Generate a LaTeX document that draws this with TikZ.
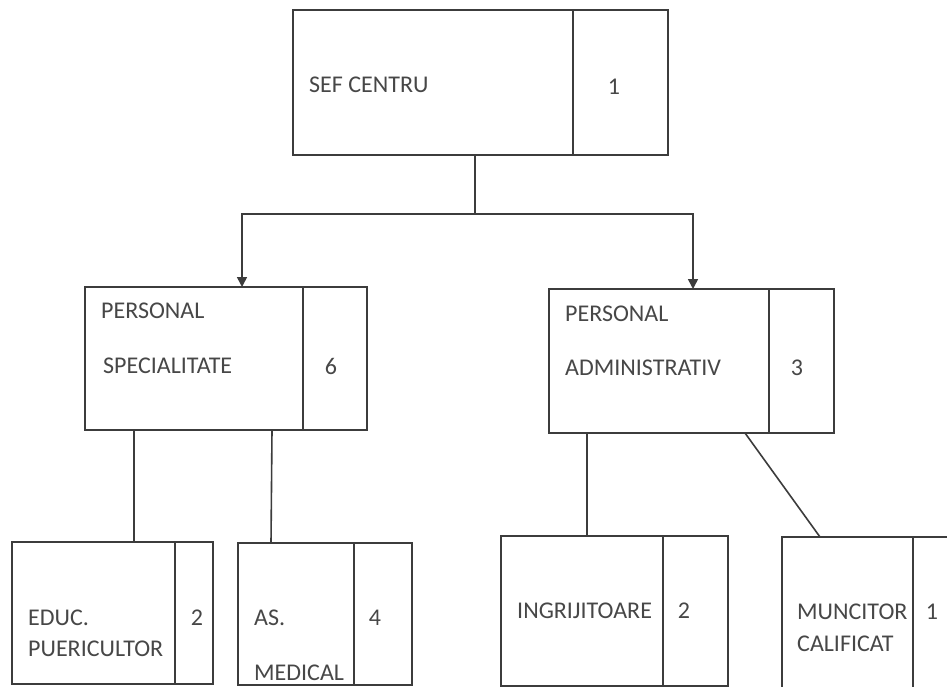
\documentclass[tikz,border=0pt]{standalone}
\usepackage{fontspec}
\setmainfont{Carlito}
\usetikzlibrary{arrows.meta,calc}
\definecolor{ln}{HTML}{3C3C3C}
\definecolor{tx}{HTML}{474747}
\tikzset{
  cell/.style={draw=ln, line width=1.6pt, rectangle, inner sep=0pt, outer sep=0pt, anchor=north west},
  txt/.style={text=tx, inner sep=0pt, anchor=west, font=\fontsize{24}{28}\selectfont},
  num/.style={text=tx, inner sep=0pt, anchor=center, font=\fontsize{24}{28}\selectfont},
  conn/.style={draw=ln, line width=1.6pt},
  arr/.style={conn, -{Triangle[width=10pt,length=10pt]}},
}
\newcommand{\cellbox}[5]{% name, x1, y1, x2, y2
  \node[cell, minimum width=#4pt-#2pt, minimum height=#5pt-#3pt] (#1) at (#2,#3) {};}
\begin{document}
\begin{tikzpicture}[x=1pt,y=-1pt]
\useasboundingbox (0,0) rectangle (947,687);
\clip (0,0) rectangle (947,687);
\fill[white] (0,0) rectangle (947,687);
% boxes
\cellbox{sef}{293}{10}{573}{155}
\cellbox{sefn}{573}{10}{668}{155}
\cellbox{ps}{85}{287}{303}{430}
\cellbox{psn}{303}{287}{367}{430}
\cellbox{pa}{549}{289}{769}{433}
\cellbox{pan}{769}{289}{834}{433}
\cellbox{ed}{12}{542}{175}{684}
\cellbox{edn}{175}{542}{213}{684}
\cellbox{as}{238}{543}{354}{685}
\cellbox{asn}{354}{543}{412}{685}
\cellbox{in}{501}{536}{663}{686}
\cellbox{inn}{663}{536}{728}{686}
\cellbox{mu}{782}{537}{913}{720}
\cellbox{mun}{913}{537}{1000}{720}
% texts
\node[txt] (t1) at (309,85) {SEF CENTRU};
\node[num] (n1) at (614,87) {1};
\node[txt] (t2a) at (101,311) {PERSONAL};
\node[txt] (t2b) at (103,366) {SPECIALITATE};
\node[num] (n2) at (331,366) {6};
\node[txt] (t3a) at (565,314) {PERSONAL};
\node[txt] (t3b) at (565,368) {ADMINISTRATIV};
\node[num] (n3) at (797,368) {3};
\node[txt] (t4a) at (28,618) {EDUC.};
\node[txt] (t4b) at (28,649) {PUERICULTOR};
\node[num] (n4) at (197,618) {2};
\node[txt] (t5a) at (254,618) {AS.};
\node[txt] (t5b) at (254,673) {MEDICAL};
\node[num] (n5) at (375,618) {4};
\node[txt] (t6) at (517,611) {INGRIJITOARE};
\node[num] (n6) at (684,611) {2};
\node[txt] (t7a) at (797,612) {MUNCITOR};
\node[txt] (t7b) at (797,644) {CALIFICAT};
\node[num] (n7) at (932,612) {1};
% connectors
\coordinate (j) at (475,214);
\draw[conn] ([xshift=182pt]sef.south west) -- (j);
\draw[arr] (j) -| ([xshift=157pt]ps.north west);
\draw[arr] (j) -| ([xshift=144pt]pa.north west);
\draw[conn] ([xshift=49pt]ps.south west) -- ([xshift=122pt]ed.north west);
\draw[conn] ([xshift=187pt]ps.south west) -- ([xshift=33pt]as.north west);
\draw[conn] ([xshift=38pt]pa.south west) -- ([xshift=86pt]in.north west);
\draw[conn] ([xshift=196pt]pa.south west) -- ([xshift=38pt]mu.north west);
\end{tikzpicture}
\end{document}
